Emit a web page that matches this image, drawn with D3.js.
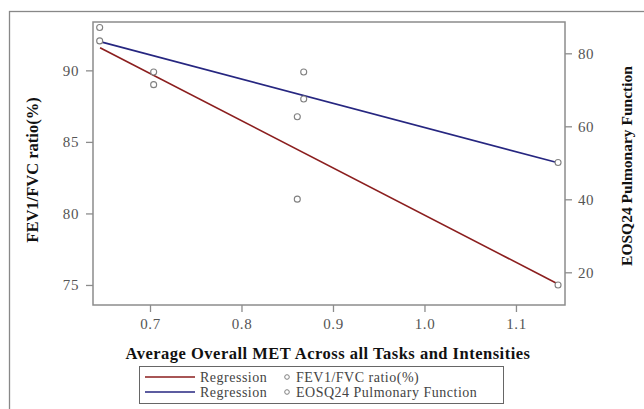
<!DOCTYPE html>
<html>
<head>
<meta charset="utf-8">
<script src="https://cdn.jsdelivr.net/npm/d3@7"></script>
<style>
  body { margin: 0; background: #fff; }
  svg { display: block; font-family: "Liberation Serif", "Times New Roman", serif; }
  .axis path, .axis line { stroke: #8c8c8c; stroke-width: 1.3; }
  .axis text { fill: #555; font-size: 15px; font-family: "Liberation Serif", serif; letter-spacing: 0.6px; }
  .title { font-weight: bold; font-size: 16.5px; fill: #111; }
</style>
</head>
<body>
<script>
var w = 644;
var h = 409;

// data
var metX = [0.645, 0.704, 0.868, 0.861, 1.146];
var fevRatio = [93.0, 89.0, 88.0, 81.0, 75.0];
var eosqScore = [83.4, 74.9, 74.9, 62.6, 50.1];

// fitted regression lines (values at both ends of the x range)
var fitX = [0.6454, 1.1459];
var fevFit = [91.58, 75.07];
var eosqFit = [83.2, 50.0];

var xTicks = [0.7, 0.8, 0.9, 1.0, 1.1];
var leftTicks = [75, 80, 85, 90];
var rightTicks = [20, 40, 60, 80];

var legendLabels = ["FEV1/FVC ratio(%)", "EOSQ24 Pulmonary Function"];
var lineColors = ["#8b1e1e", "#262680"];

var plot = {left: 93, top: 22, right: 565, bottom: 305};

var xScale = d3.scaleLinear()
               .domain([0.6377, 1.1536])
               .range([plot.left, plot.right]);

var yLeft = d3.scaleLinear()
              .domain([73.6, 93.38])
              .range([plot.bottom, plot.top]);

var yRight = d3.scaleLinear()
               .domain([11.04, 88.58])
               .range([plot.bottom, plot.top]);

var svg = d3.select("body")
            .append("svg")
            .attr("width", w)
            .attr("height", h);

// outer frame
svg.append("rect")
   .attr("x", 9.5)
   .attr("y", 11.5)
   .attr("width", w)
   .attr("height", h)
   .attr("fill", "none")
   .attr("stroke", "#888")
   .attr("stroke-width", 1.3);

// plot box
svg.append("rect")
   .attr("x", plot.left)
   .attr("y", plot.top)
   .attr("width", plot.right - plot.left)
   .attr("height", plot.bottom - plot.top)
   .attr("fill", "none")
   .attr("stroke", "#8c8c8c")
   .attr("stroke-width", 1.5);

var xAxis = d3.axisBottom(xScale)
              .tickValues(xTicks)
              .tickFormat(d3.format(".1f"))
              .tickSize(7)
              .tickPadding(6)
              .tickSizeOuter(0);

var leftAxis = d3.axisLeft(yLeft)
                 .tickValues(leftTicks)
                 .tickSize(7)
                 .tickPadding(7)
                 .tickSizeOuter(0);

var rightAxis = d3.axisRight(yRight)
                  .tickValues(rightTicks)
                  .tickSize(7)
                  .tickPadding(6)
                  .tickSizeOuter(0);

svg.append("g")
   .attr("class", "axis")
   .attr("transform", "translate(0," + plot.bottom + ")")
   .call(xAxis);

svg.append("g")
   .attr("class", "axis")
   .attr("transform", "translate(" + plot.left + ",0)")
   .call(leftAxis);

svg.append("g")
   .attr("class", "axis")
   .attr("transform", "translate(" + plot.right + ",0)")
   .call(rightAxis);

svg.selectAll(".axis .domain").remove();

// regression lines
var fevLine = d3.line()
                .x(function(d, i) { return xScale(fitX[i]); })
                .y(function(d) { return yLeft(d); });

var eosqLine = d3.line()
                 .x(function(d, i) { return xScale(fitX[i]); })
                 .y(function(d) { return yRight(d); });

svg.append("path")
   .datum(fevFit)
   .attr("d", fevLine)
   .attr("fill", "none")
   .attr("stroke", lineColors[0])
   .attr("stroke-width", 1.6);

svg.append("path")
   .datum(eosqFit)
   .attr("d", eosqLine)
   .attr("fill", "none")
   .attr("stroke", lineColors[1])
   .attr("stroke-width", 1.6);

// points
svg.selectAll("fevPoints")
   .data(metX)
   .enter()
   .append("circle")
   .attr("cx", function(d) { return xScale(d); })
   .attr("cy", function(d, i) { return yLeft(fevRatio[i]); })
   .attr("r", 3)
   .attr("fill", "#fff")
   .attr("stroke", "#808080")
   .attr("stroke-width", 1.1);

svg.selectAll("eosqPoints")
   .data(metX)
   .enter()
   .append("circle")
   .attr("cx", function(d) { return xScale(d); })
   .attr("cy", function(d, i) { return yRight(eosqScore[i]); })
   .attr("r", 3)
   .attr("fill", "#fff")
   .attr("stroke", "#808080")
   .attr("stroke-width", 1.1);

// axis titles
svg.append("text")
   .attr("class", "title")
   .attr("x", 328)
   .attr("y", 359)
   .attr("text-anchor", "middle")
   .style("letter-spacing", "0.5px")
   .text("Average Overall MET Across all Tasks and Intensities");

svg.append("text")
   .attr("class", "title")
   .attr("transform", "translate(38," + 170 + ") rotate(-90)")
   .attr("text-anchor", "middle")
   .text("FEV1/FVC ratio(%)");

svg.append("text")
   .attr("class", "title")
   .attr("transform", "translate(632," + 166 + ") rotate(-90)")
   .attr("text-anchor", "middle")
   .style("font-size", "15.5px")
   .text("EOSQ24 Pulmonary Function");

// legend
var legend = svg.append("g")
                .attr("transform", "translate(139,366)");

legend.append("rect")
      .attr("x", 0.5)
      .attr("y", 0.5)
      .attr("width", 364)
      .attr("height", 37)
      .attr("fill", "none")
      .attr("stroke", "#666")
      .attr("stroke-width", 1);

var rows = legend.selectAll("legendRows")
                 .data(legendLabels)
                 .enter()
                 .append("g")
                 .attr("transform", function(d, i) { return "translate(0," + (11 + i * 15) + ")"; });

rows.append("line")
    .attr("x1", 6)
    .attr("x2", 56)
    .attr("stroke", function(d, i) { return lineColors[i]; })
    .attr("stroke-width", 1.6);

rows.append("text")
    .attr("x", 61)
    .attr("y", 4.5)
    .attr("fill", "#444")
    .style("font-size", "14px")
    .style("letter-spacing", "0.5px")
    .text("Regression");

rows.append("circle")
    .attr("cx", 148)
    .attr("cy", 0)
    .attr("r", 2.3)
    .attr("fill", "#fff")
    .attr("stroke", "#808080")
    .attr("stroke-width", 1);

rows.append("text")
    .attr("x", 157)
    .attr("y", 4.5)
    .attr("fill", "#444")
    .style("font-size", "14px")
    .style("letter-spacing", "0.5px")
    .text(function(d) { return d; });
</script>
</body>
</html>
